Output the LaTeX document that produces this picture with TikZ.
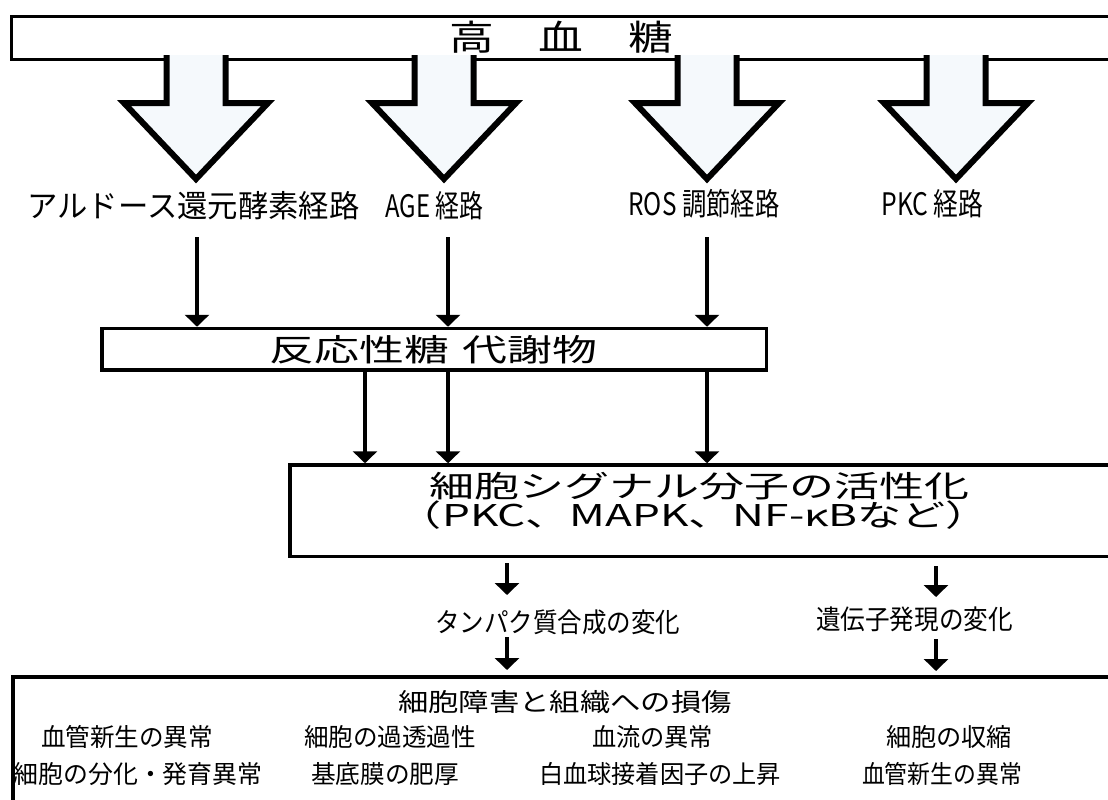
\documentclass[tikz,border=0pt]{standalone}
\usepackage{fontspec}
\setmainfont{Noto Sans CJK JP}
\usetikzlibrary{arrows.meta}
\definecolor{afill}{RGB}{245,249,252}
\newlength{\upx}\setlength{\upx}{0.5pt}
\newcommand{\wbox}[2]{\resizebox{#1\upx}{\height}{#2}}
\begin{document}
\begin{tikzpicture}[x=0.5pt,y=-0.5pt,
  box/.style={draw=black,line width=1.75pt,rectangle,inner sep=0pt},
  arr/.style={line width=1.75pt,-{Triangle[width=12pt,length=6pt]}},
  blk/.style={draw=black,line width=3pt,line join=miter,miter limit=10},
  txt/.style={inner sep=0pt,anchor=center,text=black},
  fa/.style={font=\fontsize{17.5pt}{20pt}\selectfont},
  fb/.style={font=\fontsize{15.5pt}{18pt}\selectfont},
  fs/.style={font=\fontsize{15pt}{17pt}\selectfont},
  fc/.style={font=\fontsize{13.5pt}{16pt}\selectfont},
  fd/.style={font=\fontsize{12.5pt}{15pt}\selectfont}]
\useasboundingbox (0,0) rectangle (1108,799);
\clip (0,0) rectangle (1108,799);
% boxes
\node[box,minimum width=1128.5\upx,minimum height=43\upx] (hyper) at (575.75,38) {};
\node[box,minimum width=664.5\upx,minimum height=41.5\upx] (rsm) at (434.25,349.25) {};
\node[box,minimum width=850\upx,minimum height=91.5\upx] (sig) at (715,510.75) {};
\node[box,line width=2pt,minimum width=1127\upx,minimum height=153\upx] (dmg) at (576.5,753.5) {};
% block arrows
\foreach \cx in {196,444,707,956}{
  \fill[afill] (\cx-29.5,55) -- (\cx-29.5,103) -- (\cx-72,103) -- (\cx,179) -- (\cx+72,103) -- (\cx+29.5,103) -- (\cx+29.5,55) -- cycle;
  \draw[blk] (\cx-29.5,55) -- (\cx-29.5,103) -- (\cx-72,103) -- (\cx,179) -- (\cx+72,103) -- (\cx+29.5,103) -- (\cx+29.5,55);
}
% texts
\node[txt,fa] (thg) at (561,37) {\wbox{224}{高　血　糖}};
\node[txt,fb] (l1) at (193.5,206) {\wbox{332}{アルドース還元酵素経路}};
\node[txt,fb] (l2) at (434.5,206) {\wbox{98}{AGE 経路}};
\node[txt,fb] (l3) at (704,204) {\wbox{151}{ROS 調節経路}};
\node[txt,fb] (l4) at (932.5,204) {\wbox{102}{PKC 経路}};
\node[txt,fb] (rsmt) at (433.5,349.5) {\wbox{328}{反応性糖\hspace{0.3em}代謝物}};
\node[txt,fs] (s1) at (699,486) {\wbox{540}{細胞シグナル分子の活性化}};
\node[txt,fs] (s2) at (694,515) {\wbox{592}{（PKC、MAPK、NF-κBなど）}};
\node[txt,fc] (p1) at (557.5,622) {\wbox{245}{タンパク質合成の変化}};
\node[txt,fc] (p2) at (914.5,619) {\wbox{197}{遺伝子発現の変化}};
\node[txt,fd] (dt) at (565,702.5) {\wbox{334}{細胞障害と組織への損傷}};
\node[txt,fd] (r21) at (127,737) {\wbox{172}{血管新生の異常}};
\node[txt,fd] (r22) at (390,737) {\wbox{172}{細胞の過透過性}};
\node[txt,fd] (r23) at (652.5,737) {\wbox{121}{血流の異常}};
\node[txt,fd] (r24) at (949,737) {\wbox{126}{細胞の収縮}};
\node[txt,fd] (r31) at (138,774) {\wbox{249}{細胞の分化・発育異常}};
\node[txt,fd] (r32) at (385,774) {\wbox{148}{基底膜の肥厚}};
\node[txt,fd] (r33) at (660,774) {\wbox{242}{白血球接着因子の上昇}};
\node[txt,fd] (r34) at (942,774) {\wbox{160}{血管新生の異常}};
% thin arrows: pathways -> metabolites
\coordinate (t1) at (197,237);
\coordinate (t2) at (448,237);
\coordinate (t3) at (707,237);
\draw[arr] (t1) -- (t1 |- rsm.north);
\draw[arr] (t2) -- (t2 |- rsm.north);
\draw[arr] (t3) -- (t3 |- rsm.north);
% metabolites -> signal
\coordinate (u1) at (365,0);
\coordinate (u2) at (448,0);
\coordinate (u3) at (707,0);
\draw[arr] (rsm.south -| u1) -- (u1 |- sig.north);
\draw[arr] (rsm.south -| u2) -- (u2 |- sig.north);
\draw[arr] (rsm.south -| u3) -- (u3 |- sig.north);
% signal -> changes
\coordinate (v1a) at (507,563);
\coordinate (v1b) at (507,595);
\coordinate (v2a) at (936,566);
\coordinate (v2b) at (936,597);
\draw[arr] (v1a) -- (v1b);
\draw[arr] (v2a) -- (v2b);
% changes -> damage
\coordinate (w1a) at (507,637);
\coordinate (w1b) at (507,670);
\coordinate (w2a) at (936,639);
\coordinate (w2b) at (936,671);
\draw[arr] (w1a) -- (w1b);
\draw[arr] (w2a) -- (w2b);
\end{tikzpicture}
\end{document}
